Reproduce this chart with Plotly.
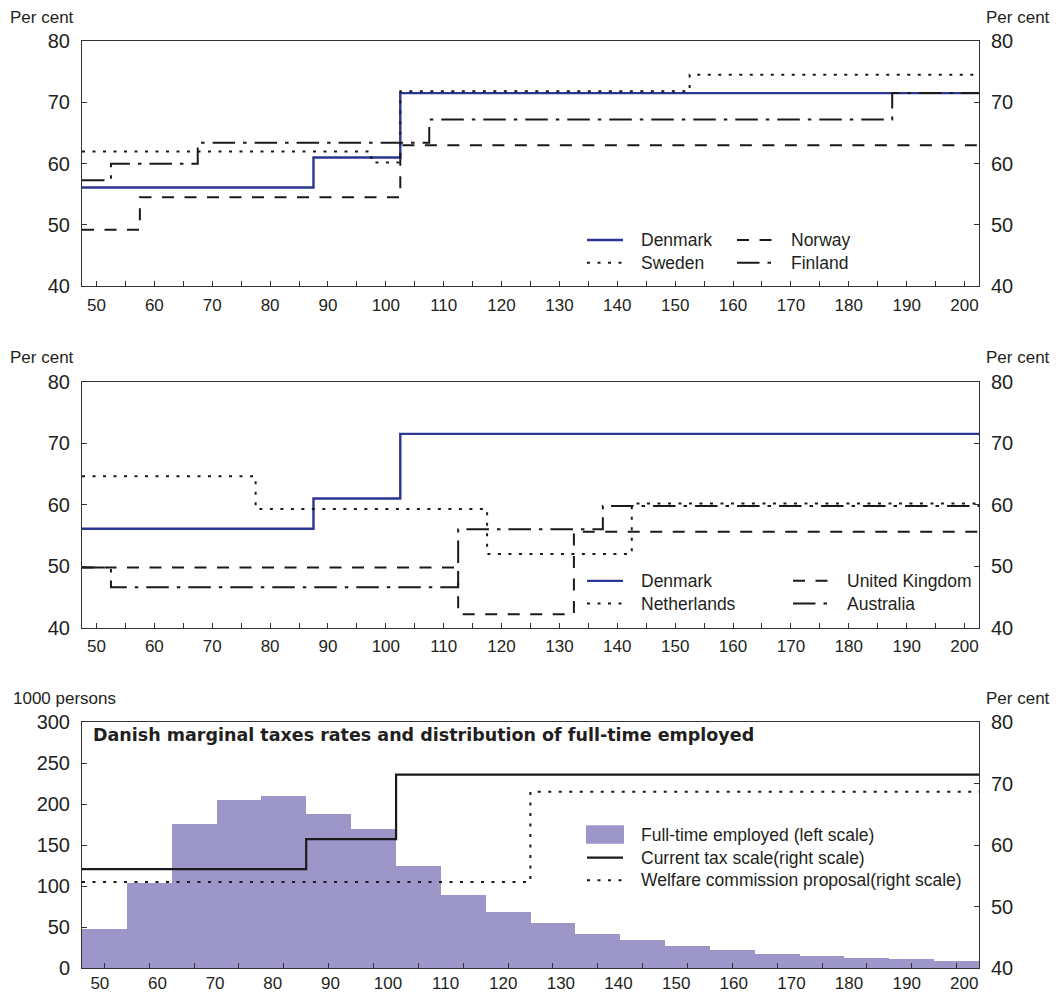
import plotly.graph_objects as go

# ---------------- data ----------------
# Income (per cent of average production worker wage) where each tax bracket starts,
# and the marginal tax rate (per cent) that applies from there on.
X_MIN, X_MAX = 47.5, 202.5

dk_x = [47.5, 87.5, 102.5, 202.5]
dk_y = [56.1, 61.0, 71.5, 71.5]
se_x = [47.5, 97.5, 102.5, 152.5, 202.5]
se_y = [62.0, 60.2, 71.8, 74.5, 74.5]
no_x = [47.5, 57.5, 102.5, 202.5]
no_y = [49.2, 54.5, 63.0, 63.0]
fi_x = [47.5, 52.5, 67.5, 107.5, 187.5, 202.5]
fi_y = [57.3, 60.0, 63.4, 67.2, 71.5, 71.5]

nl_x = [47.5, 77.5, 117.5, 142.5, 202.5]
nl_y = [64.6, 59.3, 52.0, 60.2, 60.2]
uk_x = [47.5, 112.5, 132.5, 202.5]
uk_y = [49.8, 42.2, 55.6, 55.6]
au_x = [47.5, 52.5, 112.5, 137.5, 202.5]
au_y = [49.8, 46.6, 56.0, 59.8, 59.8]

# Distribution of full-time employed (1000 persons) over 20 income groups
emp_groups = list(range(20))
emp_persons = [47, 103, 175, 205, 209, 188, 169, 124, 89, 68,
               54, 41, 34, 26, 21, 17, 14, 12, 10, 8]
EMP_X_MIN, EMP_X_MAX = 46.9, 202.55
cur_x = [46.9, 85.8, 101.4, 202.55]
cur_y = [56.1, 61.0, 71.5, 71.5]
wc_x = [46.9, 124.7, 202.55]
wc_y = [54.0, 68.7, 68.7]

x_ticks = list(range(50, 201, 10))
x_minor = list(range(50, 201, 5))
pct_ticks = [40, 50, 60, 70, 80]
persons_ticks = [0, 50, 100, 150, 200, 250, 300]

# ---------------- styles ----------------
FONT = "Liberation Sans, Arial, Helvetica, sans-serif"
TITLE_FONT = "DejaVu Sans, Verdana, sans-serif"
TXT = "#231f20"
AX = "#333333"
BLUE = "#2b3593"
BAR = "#9d96c8"
BLACK = "#1a1a1a"
DASH = "12px,10.5px"
DOT = "3px,7.5px"
DASHDOT = "22.5px,8px,3.5px,8px"

fig = go.Figure()


def step(x, y, xa, ya, color, dash, width=2.0):
    fig.add_trace(go.Scatter(
        x=x, y=y, xaxis=xa, yaxis=ya, mode="lines",
        line=dict(color=color, dash=dash, width=width, shape="hv"),
        showlegend=False, hoverinfo="skip"))


# Panel 1: Nordic countries (Denmark on the left scale, the rest on the
# identical right scale so both scales are drawn)
step(dk_x, dk_y, "x", "y", BLUE, "solid", 2.4)
step(se_x, se_y, "x", "y2", BLACK, DOT)
step(no_x, no_y, "x", "y2", BLACK, DASH)
step(fi_x, fi_y, "x", "y2", BLACK, DASHDOT)

# Panel 2: Denmark versus other countries
step(dk_x, dk_y, "x2", "y3", BLUE, "solid", 2.4)
step(nl_x, nl_y, "x2", "y4", BLACK, DOT)
step(uk_x, uk_y, "x2", "y4", BLACK, DASH)
step(au_x, au_y, "x2", "y4", BLACK, DASHDOT)

# Panel 3: employment histogram with Danish tax scales
fig.add_trace(go.Bar(
    x=emp_groups, y=emp_persons, xaxis="x3", yaxis="y5", width=1.0,
    marker=dict(color=BAR, line=dict(width=0)), showlegend=False, hoverinfo="skip"))
step(cur_x, cur_y, "x4", "y6", BLACK, "solid", 2.2)
step(wc_x, wc_y, "x4", "y6", BLACK, DOT)

# ---------------- axes ----------------
common = dict(showline=True, linecolor=AX, linewidth=1, showgrid=False,
              zeroline=False, ticks="inside", ticklen=5, tickcolor=AX, tickwidth=1)
xfont = dict(family=FONT, size=17, color=TXT)
yfont = dict(family=FONT, size=20, color=TXT)

D1 = [0.7354, 1.0]
D2 = [0.3670, 0.6326]
D3 = [0.0, 0.2649]


def income_axis(anchor):
    return dict(common, anchor=anchor, domain=[0, 1], range=[X_MIN, X_MAX],
                mirror=True, tickmode="array", tickvals=x_ticks, tickfont=xfont,
                ticklabelstandoff=3,
                minor=dict(tickmode="array", tickvals=x_minor, ticks="inside",
                           ticklen=5, tickcolor=AX))


def pct_axis(anchor, domain=None, overlay=None):
    ax = dict(common, anchor=anchor, range=[40, 80], tickmode="array",
              tickvals=pct_ticks, tickfont=yfont, ticklabelstandoff=7)
    if overlay:
        ax.update(overlaying=overlay, side="right", mirror=False)
    else:
        ax.update(domain=domain, mirror=True)
    return ax


fig.update_layout(
    xaxis=income_axis("y"),
    yaxis=pct_axis("x", D1),
    yaxis2=pct_axis("x", overlay="y"),
    xaxis2=income_axis("y3"),
    yaxis3=pct_axis("x2", D2),
    yaxis4=pct_axis("x2", overlay="y3"),
    xaxis3=dict(common, anchor="y5", domain=[0, 1], range=[-0.5, 19.5], mirror=True,
                tickmode="array", tickvals=emp_groups, showticklabels=False),
    xaxis4=dict(anchor="y5", overlaying="x3", range=[EMP_X_MIN, EMP_X_MAX],
                showline=False, showgrid=False, zeroline=False, ticks="",
                tickmode="array", tickvals=x_ticks, tickfont=xfont, ticklabelstandoff=3),
    yaxis5=dict(common, anchor="x3", domain=D3, range=[0, 300], mirror=True,
                tickmode="array", tickvals=persons_ticks, tickfont=yfont,
                ticklabelstandoff=7),
    yaxis6=pct_axis("x3", overlay="y5"),
)

# ---------------- texts and legends ----------------
L, R, T, B = 82, 78, 41, 23
W, H = 1057, 1005
PW, PH = W - L - R, H - T - B


def px(x):
    return (x - L) / PW


def py(y):
    return (H - B - y) / PH


def text(x, y, s, anchor="left", size=17, bold=False, family=FONT):
    fig.add_annotation(xref="paper", yref="paper", x=px(x), y=py(y), text=s,
                       xanchor=anchor, yanchor="middle", showarrow=False,
                       font=dict(family=family, size=size, color=TXT,
                                 weight="bold" if bold else "normal"))


text(76, 17, "Per cent", "right")
text(984, 17, "Per cent")
text(76, 362, "Per cent", "right")
text(984, 362, "Per cent")
text(118, 708, "1000 persons", "right")
text(984, 708, "Per cent")
text(91, 745, "Danish marginal taxes rates and distribution of full-time employed",
     size=17.5, bold=True, family=TITLE_FONT)


def key_line(x0, y, color, dash, width, label):
    fig.add_shape(type="line", xref="paper", yref="paper",
                  x0=px(x0), x1=px(x0 + 36), y0=py(y), y1=py(y),
                  line=dict(color=color, dash=dash, width=width))
    text(x0 + 52, y, label, size=17.5)


key_line(587, 243, BLUE, "solid", 2.4, "Denmark")
key_line(587, 266, BLACK, DOT, 2, "Sweden")
key_line(737, 243, BLACK, DASH, 2, "Norway")
key_line(737, 266, BLACK, DASHDOT, 2, "Finland")

key_line(587, 589, BLUE, "solid", 2.4, "Denmark")
key_line(587, 612, BLACK, DOT, 2, "Netherlands")
key_line(793, 589, BLACK, DASH, 2, "United Kingdom")
key_line(793, 612, BLACK, DASHDOT, 2, "Australia")

fig.add_shape(type="rect", xref="paper", yref="paper",
              x0=px(586), x1=px(624), y0=py(856), y1=py(837),
              fillcolor=BAR, line=dict(width=0))
text(639, 847, "Full-time employed (left scale)", size=17.5)
key_line(587, 870, BLACK, "solid", 2.2, "Current tax scale(right scale)")
key_line(587, 893, BLACK, DOT, 2, "Welfare commission proposal(right scale)")

fig.update_layout(
    width=W, height=H,
    margin=dict(l=L, r=R, t=T, b=B),
    paper_bgcolor="white", plot_bgcolor="white",
    bargap=0, showlegend=False,
    font=dict(family=FONT, color=TXT),
)

fig.write_html("out.html")
